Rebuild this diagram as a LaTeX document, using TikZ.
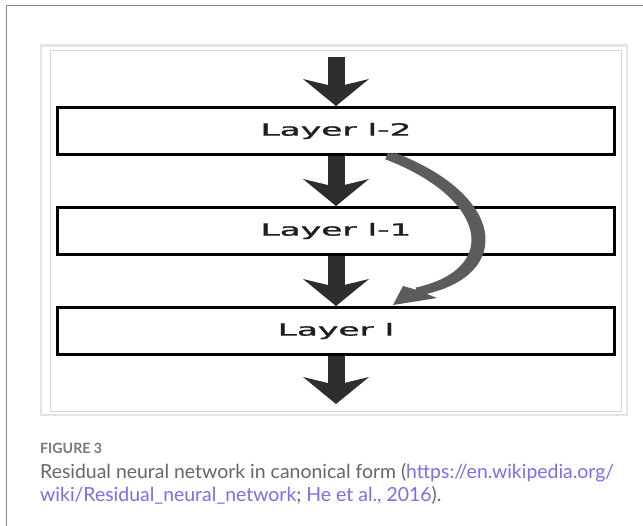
\documentclass[tikz,border=0pt]{standalone}
\usepackage{fontspec}
\usepackage{graphicx}
\setmainfont{Lato}
\newfontfamily\layerfont{DejaVu Sans}[FakeBold=1.2]
\usetikzlibrary{arrows.meta,calc}
\definecolor{framegray}{HTML}{8A8A8A}
\definecolor{imgborderA}{HTML}{E4E4E4}
\definecolor{imgborderB}{HTML}{D6D6D6}
\definecolor{arrowdark}{HTML}{2E2E2E}
\definecolor{curvegray}{HTML}{5C5C5C}
\definecolor{captiongray}{HTML}{676767}
\definecolor{figgray}{HTML}{777777}
\definecolor{linkpurple}{HTML}{7B6EF0}
\newlength\capwidthA
\newcommand\caplineA{\fontsize{17}{17}\selectfont Residual neural network in canonical form (\textcolor{linkpurple}{https://en.wikipedia.org/}}
\newcommand\caplineB{\fontsize{17}{17}\selectfont\textcolor{linkpurple}{wiki/Residual\_neural\_network}; \textcolor{linkpurple}{He et al., 2016}).}
\newcommand\layertext[1]{\scalebox{2.05}[1]{\layerfont\fontsize{16.8}{16.8}\selectfont #1}}
\begin{document}
\settowidth{\capwidthA}{\caplineA}%
\pgfmathsetmacro\capscale{574pt/\capwidthA}%
\begin{tikzpicture}[x=1pt,y=-1pt,
  layerbox/.style={draw=black, line width=2.8pt, fill=white, minimum width=557pt,
    minimum height=47.2pt, inner sep=0pt, text=black!88},
  flowarrow/.style={draw=arrowdark, line width=17pt,
    -{Stealth[length=27pt, width=66pt, inset=8pt, line width=0pt]}},
  skipline/.style={draw=curvegray, line width=7pt},
  captext/.style={anchor=base west, inner sep=0pt, text=captiongray},
]
\fill[white] (0,0) rectangle (643,526);
\useasboundingbox (0,0) rectangle (643,526);
% outer frame
\draw[framegray, line width=1.5pt] (6.5,526) -- (6.5,5.5) -- (643,5.5);
% image borders
\draw[imgborderA, line width=2.5pt] (41,45.5) rectangle (627,415);
\draw[imgborderB, line width=1pt] (50,50.5) rectangle (621.5,411.5);

% layers
\node[layerbox] (l2) at (336,131) {\layertext{Layer l-2}};
\node[layerbox] (l1) at (336,231) {\layertext{Layer l-1}};
\node[layerbox] (l)  at (336,331) {\layertext{Layer l}};

\coordinate (in)  at (336,57);
\coordinate (out) at (336,404);

\draw[flowarrow] (in) -- (l2.north);
\draw[flowarrow] (l2.south) -- (l1.north);
\draw[flowarrow] (l1.south) -- (l.north);
\draw[flowarrow] (l.south) -- (out);

% skip connection
\coordinate (cs) at ($(l2.south)+(54,0)$);
\coordinate (ct) at ($(l.north)+(57,-1)$);
\coordinate (ce) at ($(ct)+(27,-14)$);
\coordinate (c1) at (497,197);
\coordinate (c2) at (507,272);
\foreach \dx in {-3.5,0,3.5}{
  \draw[skipline] ([xshift=\dx pt]cs) .. controls ([xshift=\dx pt]c1) and ([xshift=\dx pt]c2) .. ([xshift=\dx pt]ce);
}
\fill[curvegray] (ct) -- ($(ct)+(10,-19)$) -- ($(ct)+(24,-15)$) -- ($(ct)+(44,-7)$) -- cycle;

% caption
\node[anchor=base west, inner sep=0pt, text=figgray] (fig) at (40,454)
  {\resizebox{62pt}{!}{\bfseries FIGURE 3}};
\node[captext] (cap1) at (40,479) {\scalebox{\capscale}{\caplineA}};
\node[captext] (cap2) at (40,502) {\scalebox{\capscale}{\caplineB}};
\end{tikzpicture}
\end{document}
